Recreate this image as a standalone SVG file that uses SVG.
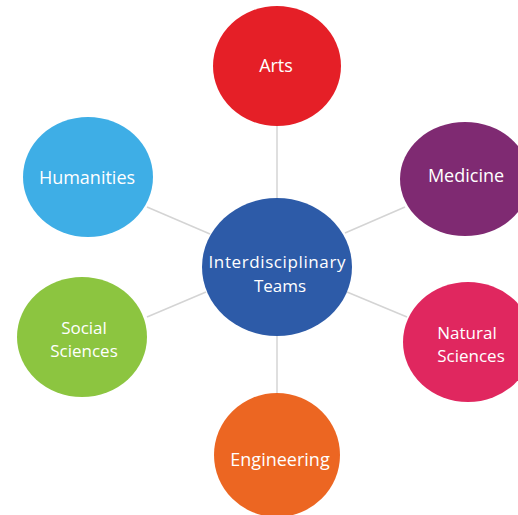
<svg xmlns="http://www.w3.org/2000/svg" width="518" height="515" viewBox="0 0 518 515">
<style>
.lbl{font-family:"Open Sans","Liberation Sans",sans-serif;font-size:18px;fill:#ffffff;text-anchor:middle}
.two{font-size:17px}
.con line{stroke:#d4d4d4;stroke-width:1.5}
</style>
<rect width="518" height="515" fill="#ffffff"/>
<g class="con" id="connectors">
<line x1="277" y1="125" x2="277" y2="200"/>
<line x1="277" y1="333" x2="277" y2="395"/>
<line x1="147" y1="207" x2="210" y2="234"/>
<line x1="147" y1="317" x2="206" y2="292"/>
<line x1="345" y1="233" x2="405" y2="207"/>
<line x1="347" y1="292" x2="407" y2="317"/>
</g>
<g id="arts">
<ellipse cx="277" cy="66" rx="64" ry="60" fill="#e51f27"/>
<text class="lbl" x="276" y="72">Arts</text>
</g>
<g id="humanities">
<ellipse cx="88" cy="177" rx="65" ry="60" fill="#3eaee6"/>
<text class="lbl" x="87" y="184">Humanities</text>
</g>
<g id="medicine">
<ellipse cx="465" cy="179" rx="65" ry="57" fill="#7f2a72"/>
<text class="lbl" x="466" y="182">Medicine</text>
</g>
<g id="center">
<ellipse cx="277" cy="267" rx="75" ry="69" fill="#2d5ba8"/>
<text class="lbl two" x="277" y="268" textLength="137">Interdisciplinary</text>
<text class="lbl two" x="280" y="291.5">Teams</text>
</g>
<g id="social">
<ellipse cx="82" cy="337" rx="65" ry="60" fill="#8cc540"/>
<text class="lbl two" x="84" y="333.5">Social</text>
<text class="lbl two" x="84" y="357">Sciences</text>
</g>
<g id="natural">
<ellipse cx="468" cy="342" rx="65" ry="60" fill="#e0275f"/>
<text class="lbl two" x="467" y="338.5">Natural</text>
<text class="lbl two" x="471" y="362">Sciences</text>
</g>
<g id="engineering">
<ellipse cx="277" cy="455" rx="63" ry="62" fill="#ec6622"/>
<text class="lbl" x="280" y="466">Engineering</text>
</g>
</svg>
